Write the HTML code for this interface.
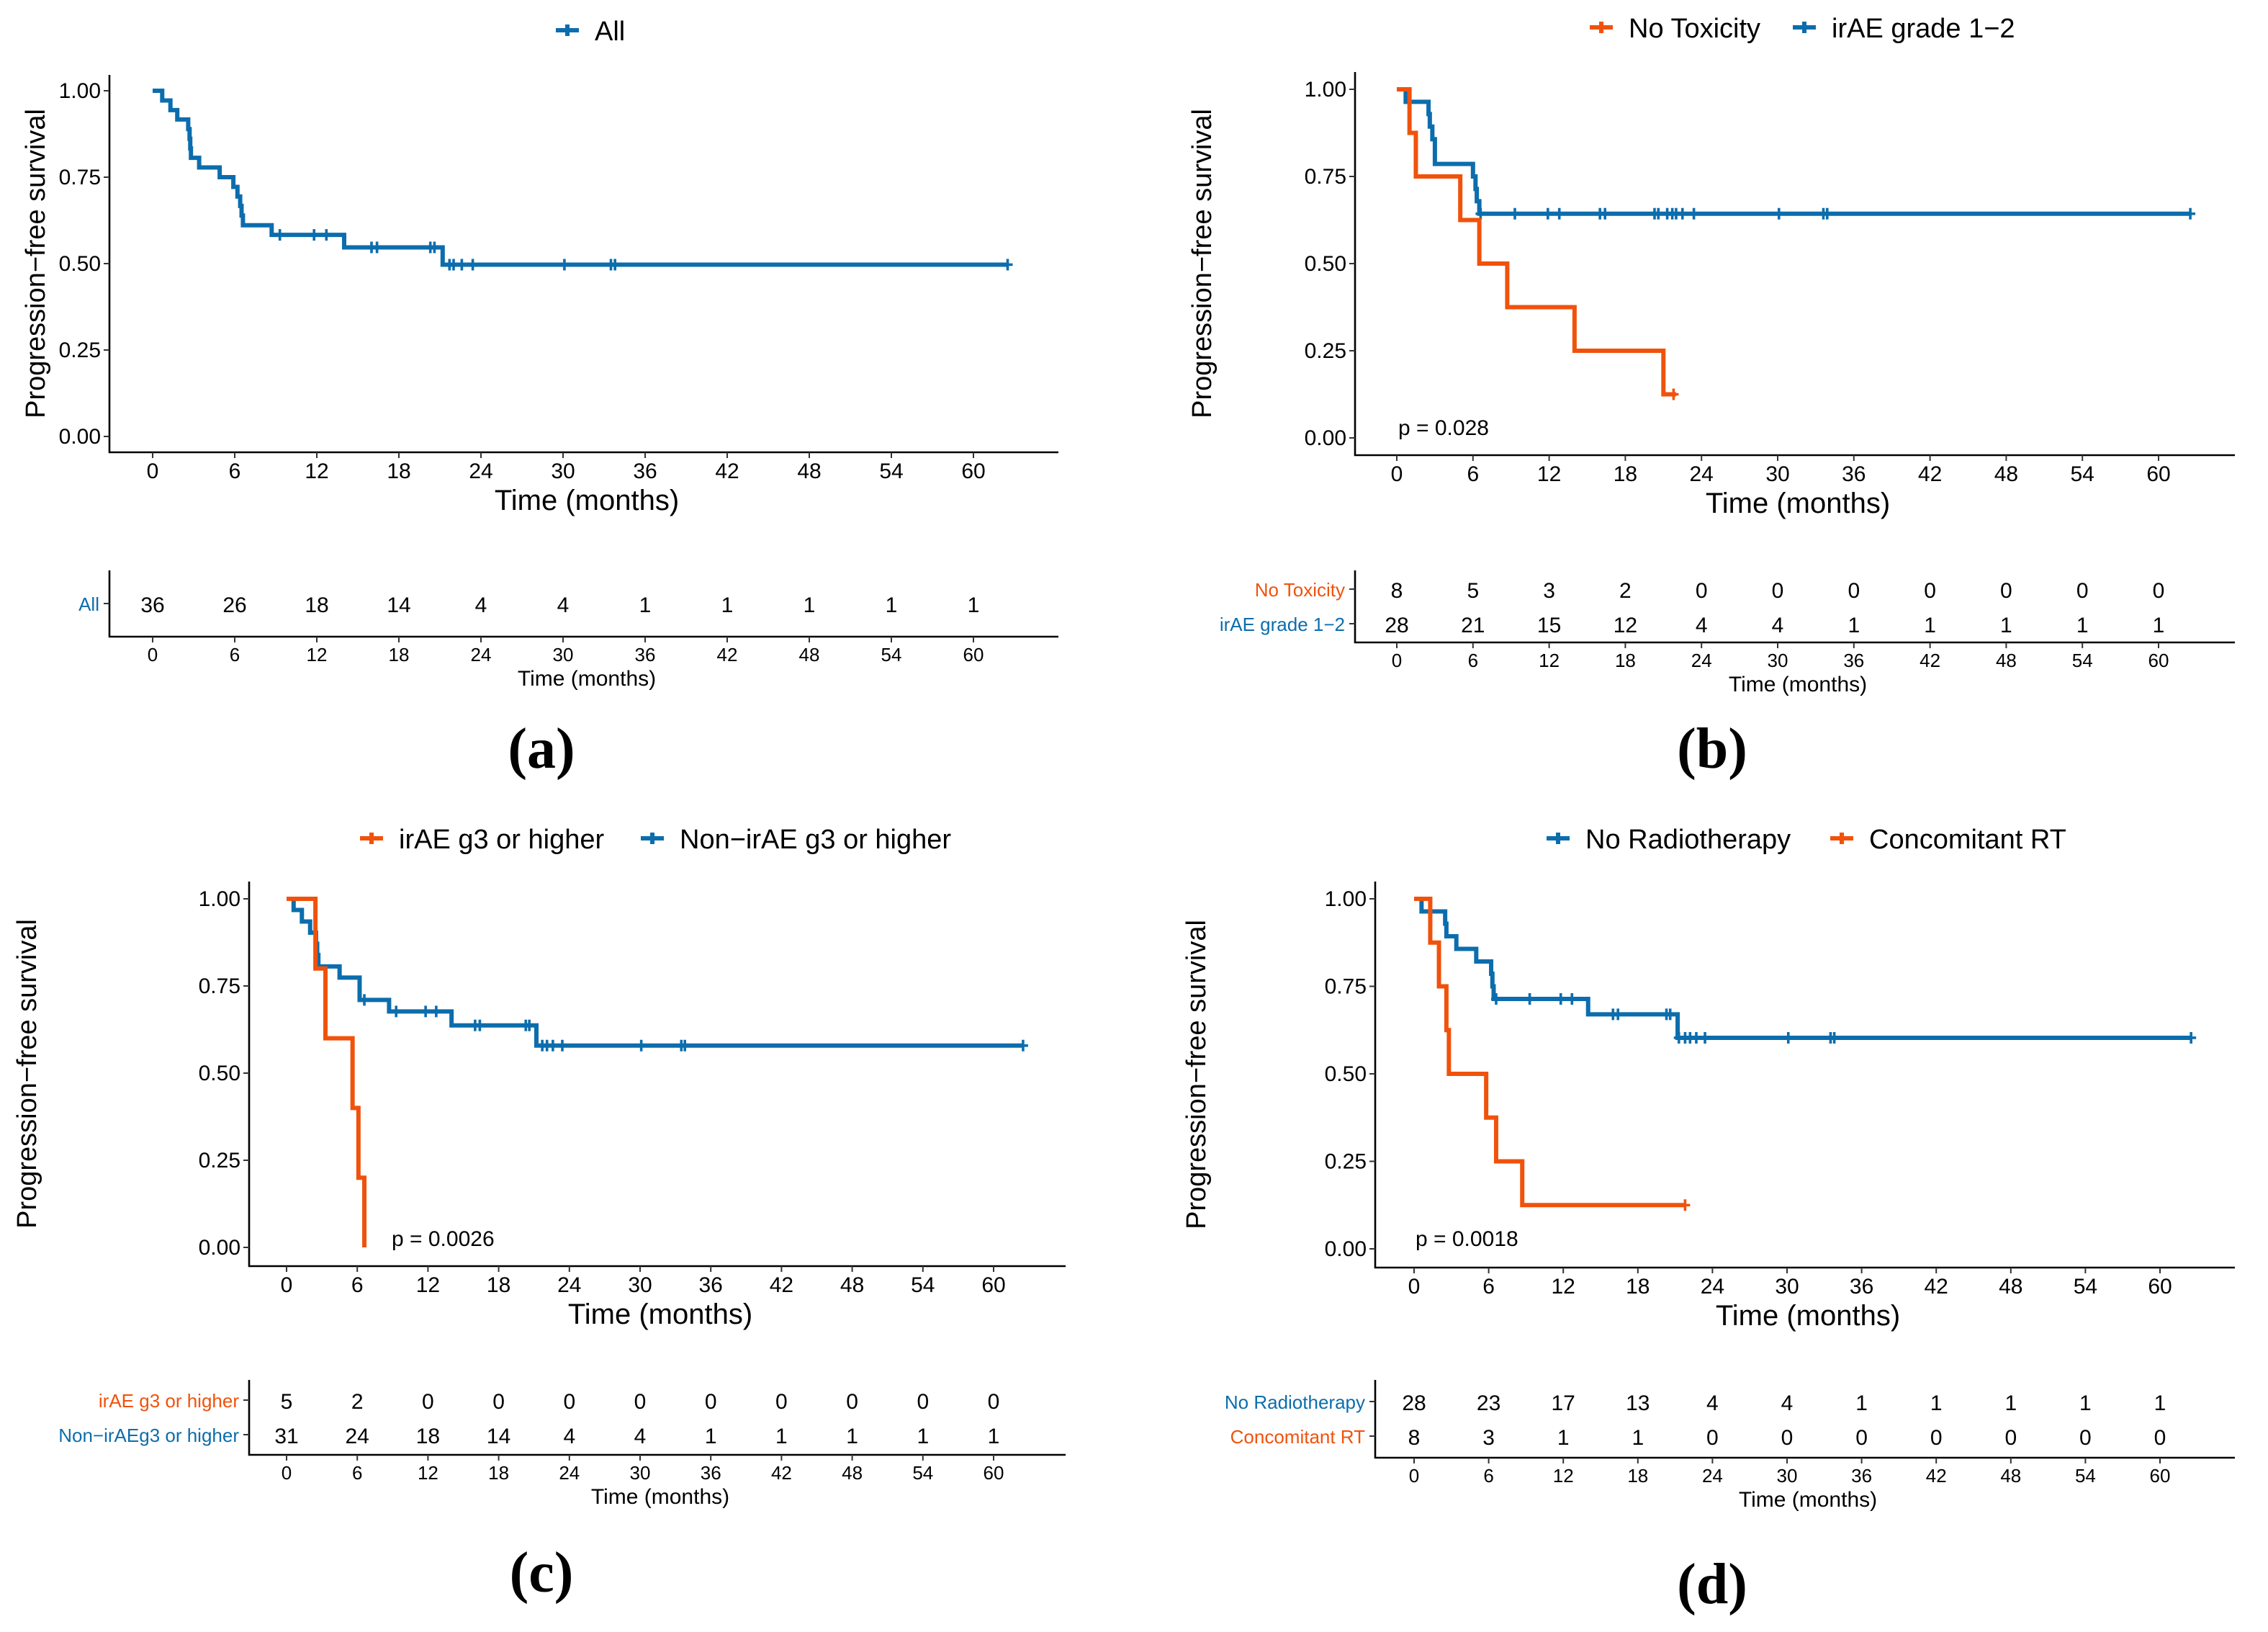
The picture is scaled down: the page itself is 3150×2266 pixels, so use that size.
<!DOCTYPE html>
<html><head><meta charset="utf-8"><style>
html,body{margin:0;padding:0;background:#fff}
svg{display:block}
.tk{font-family:"Liberation Sans Narrow","Liberation Sans",sans-serif;font-size:15px;fill:#000}
.ttl{font-family:"Liberation Sans Narrow","Liberation Sans",sans-serif;font-size:20px;fill:#000}
.yt{font-family:"Liberation Sans",sans-serif;font-size:19px;fill:#000}
.lg{font-family:"Liberation Sans",sans-serif;font-size:19px;fill:#000}
.rn{font-family:"Liberation Sans Narrow","Liberation Sans",sans-serif;font-size:15px;fill:#000}
.rl{font-family:"Liberation Sans Narrow","Liberation Sans",sans-serif;font-size:13px}
.rt{font-family:"Liberation Sans Narrow","Liberation Sans",sans-serif;font-size:13px;fill:#000}
.pl{font-family:"Liberation Serif",serif;font-size:40px;font-weight:bold;fill:#000}
</style></head><body>
<svg id="root" width="3150" height="2266" viewBox="0 0 1575 1133" xmlns="http://www.w3.org/2000/svg"></svg>
<script>
// ---- data ----
const xTicks = [0,6,12,18,24,30,36,42,48,54,60];
const yTicks = [0,0.25,0.5,0.75,1.0];
const yTickLabels = ["0.00","0.25","0.50","0.75","1.00"];

// Panel a
const aAllTimes = [0,0.7,1.3,1.8,2.6,2.7,2.75,2.8,3.4,4.9,5.9,6.2,6.4,6.5,6.6,8.7,14.0,21.2];
const aAllSurv  = [1,0.972,0.944,0.917,0.889,0.861,0.833,0.806,0.778,0.75,0.722,0.694,0.667,0.639,0.611,0.583,0.547,0.497];
const aAllEnd = 62.5;
const aAllCensor = [9.3,11.8,12.7,16,16.4,20.3,20.6,21.7,22,22.6,23.4,30.1,33.5,33.8,62.5];
const aRiskAll = [36,26,18,14,4,4,1,1,1,1,1];

// Panel b
const bNoTox_T = [0,1.0,1.5,5.0,6.5,8.7,14.0,21.0];
const bNoTox_S = [1,0.875,0.75,0.625,0.5,0.375,0.25,0.125];
const bNoTox_End = 22;
const bNoTox_C = [21.8];
const bIrae_T = [0,0.7,2.5,2.6,2.8,3.0,6.0,6.2,6.3,6.5];
const bIrae_S = [1,0.964,0.929,0.893,0.857,0.786,0.75,0.714,0.679,0.643];
const bIrae_End = 62.5;
const bIrae_C = [6.6,9.3,11.9,12.8,16,16.4,20.3,20.6,21.3,21.7,22,22.5,23.4,30.1,33.6,33.9,62.5];
const bRiskNoTox = [8,5,3,2,0,0,0,0,0,0,0];
const bRiskIrae = [28,21,15,12,4,4,1,1,1,1,1];

// Panel c
const cG3_T = [0,2.45,3.3,5.6,6.1,6.6];
const cG3_S = [1,0.8,0.6,0.4,0.2,0.0];
const cG3_End = 6.6;
const cG3_C = [];
const cNon_T = [0,0.6,1.3,2.0,2.5,2.6,2.7,4.5,6.2,8.7,14.0,21.2];
const cNon_S = [1,0.968,0.935,0.903,0.871,0.839,0.806,0.774,0.71,0.677,0.637,0.579];
const cNon_End = 62.5;
const cNon_C = [6.6,9.3,11.8,12.7,16,16.4,20.3,20.6,21.7,22.1,22.6,23.4,30.1,33.5,33.8,62.5];
const cRiskG3 = [5,2,0,0,0,0,0,0,0,0,0];
const cRiskNon = [31,24,18,14,4,4,1,1,1,1,1];

// Panel d
const dNoRT_T = [0,0.6,2.5,2.6,3.4,5.0,6.2,6.3,6.4,14.0,21.2];
const dNoRT_S = [1,0.964,0.929,0.893,0.857,0.821,0.786,0.75,0.714,0.670,0.603];
const dNoRT_End = 62.5;
const dNoRT_C = [6.6,9.3,11.8,12.7,16,16.4,20.3,20.6,21.3,21.8,22.2,22.7,23.4,30.1,33.5,33.8,62.5];
const dRT_T = [0,1.3,2.0,2.6,2.8,5.8,6.6,8.7];
const dRT_S = [1,0.875,0.75,0.625,0.5,0.375,0.25,0.125];
const dRT_End = 21.8;
const dRT_C = [21.8];
const dRiskNoRT = [28,23,17,13,4,4,1,1,1,1,1];
const dRiskRT = [8,3,1,1,0,0,0,0,0,0,0];

const BLUE = "#0C6DAD", ORANGE = "#F0520C";
const NS = "http://www.w3.org/2000/svg";
const root = document.getElementById('root');

function mk(tag, attrs, parent, text){
  const e = document.createElementNS(NS, tag);
  for (const k in attrs) e.setAttribute(k, attrs[k]);
  if (text !== undefined) e.textContent = text;
  (parent||root).appendChild(e);
  return e;
}

function panel(P){
  const g = mk('g', {});
  
  
  const sx = t => P.x0 + (P.x60 - P.x0) * t / 60;
  const sy = s => P.y0 + (P.y1 - P.y0) * s;
  const ax = mk('path', {d:`M${P.ax},${P.top} V${P.axY} H${P.right}`, fill:'none', stroke:'#000', 'stroke-width':1.3}, g);
  
  
  yTicks.forEach((v,i)=>{
    mk('line',{x1:P.ax-4,x2:P.ax,y1:sy(v),y2:sy(v),stroke:'#333','stroke-width':1},g);
    const t = mk('text',{x:P.ax-6,y:sy(v)+5,'text-anchor':'end',class:'tk'},g,yTickLabels[i]);
    
    
  });
  xTicks.forEach(v=>{
    mk('line',{x1:sx(v),x2:sx(v),y1:P.axY,y2:P.axY+4,stroke:'#333','stroke-width':1},g);
    const t = mk('text',{x:sx(v),y:P.axY+18,'text-anchor':'middle',class:'tk'},g,String(v));
    
    
  });
  const xt = mk('text',{x:(P.ax+P.right)/2+2,y:P.axY+40,'text-anchor':'middle',class:'ttl'},g,'Time (months)');
  
  
  const ytx = P.ytx, yty = (P.top+P.axY)/2;
  const yt = mk('text',{x:ytx,y:yty,'text-anchor':'middle',class:'yt',transform:`rotate(-90 ${ytx} ${yty})`},g,'Progression\u2212free survival');
  
  
  P.series.forEach(S=>{
    let d = `M${sx(S.T[0])},${sy(S.S[0])}`;
    for (let i=1;i<S.T.length;i++){
      d += ` H${sx(S.T[i])} V${sy(S.S[i])}`;
    }
    d += ` H${sx(S.end)}`;
    const p = mk('path',{d, fill:'none', stroke:S.color, 'stroke-width':3}, g);
    
    
    S.C.forEach(c=>{
      let s = S.S[0];
      for (let i=0;i<S.T.length;i++) if (S.T[i] <= c) s = S.S[i];
      const m = mk('path',{d:`M${sx(c)},${sy(s)-4} v8 M${sx(c)-3.5},${sy(s)} h7`, stroke:S.color,'stroke-width':1.8}, g);
      
      
    });
  });
  P.legend.forEach(L=>{
    const lm = mk('path',{d:`M${L.x-8},${P.legY} h16 M${L.x},${P.legY-4} v8`, stroke:L.color,'stroke-width':3}, g);
    
    
    const lt = mk('text',{x:L.x+19,y:P.legY+7,class:'lg'},g,L.label);
    
    
  });
  if (P.pval){
    const pt = mk('text',{x:P.pval.x,y:P.pval.y,class:'tk'},g,P.pval.t);
    
    
  }
  const R = P.risk;
  mk('path',{d:`M${P.ax},${R.top} V${R.axY} H${P.right}`, fill:'none', stroke:'#000','stroke-width':1.3}, g);
  R.rows.forEach(row=>{
    const lb = mk('text',{x:P.ax-7,y:row.y+5,'text-anchor':'end',class:'rl',fill:row.color},g,row.label);
    
    
    mk('line',{x1:P.ax-4,x2:P.ax,y1:row.y,y2:row.y,stroke:'#333','stroke-width':1},g);
    row.vals.forEach((v,i)=>{
      const t = mk('text',{x:sx(xTicks[i]),y:row.y+6,'text-anchor':'middle',class:'rn'},g,String(v));
      
      
    });
  });
  xTicks.forEach(v=>{
    mk('line',{x1:sx(v),x2:sx(v),y1:R.axY,y2:R.axY+4,stroke:'#333','stroke-width':1},g);
    mk('text',{x:sx(v),y:R.axY+17,'text-anchor':'middle',class:'rt'},g,String(v));
  });
  const rt = mk('text',{x:(P.ax+P.right)/2+2,y:R.axY+34,'text-anchor':'middle',class:'rt',style:'font-size:15px'},g,'Time (months)');
  
  
  const lab = mk('text',{x:P.labX,y:P.labY,'text-anchor':'middle',class:'pl'},g,`(${P.id})`);
  
  
}

panel({id:'a', ax:76, top:52, axY:314, right:735, x0:106, x60:676, y0:303, y1:63, ytx:31,
  legY:21, legend:[{x:394,color:BLUE,label:'All'}],
  series:[{key:'all',T:aAllTimes,S:aAllSurv,end:aAllEnd,C:aAllCensor,color:BLUE}],
  risk:{top:396, axY:442, rows:[{y:419,label:'All',color:BLUE,vals:aRiskAll}]},
  labX:376, labY:533});

panel({id:'b', ax:941, top:50, axY:316, right:1552, x0:970, x60:1499, y0:304, y1:62, ytx:841,
  legY:19, legend:[{x:1112,color:ORANGE,label:'No Toxicity'},{x:1253,color:BLUE,label:'irAE grade 1\u22122'}],
  pval:{x:971,y:302,t:'p = 0.028'},
  series:[{key:'irae-1-2',T:bIrae_T,S:bIrae_S,end:bIrae_End,C:bIrae_C,color:BLUE},
          {key:'no-toxicity',T:bNoTox_T,S:bNoTox_S,end:bNoTox_End,C:bNoTox_C,color:ORANGE}],
  risk:{top:396, axY:446, rows:[{y:409,label:'No Toxicity',color:ORANGE,vals:bRiskNoTox},{y:433,label:'irAE grade 1\u22122',color:BLUE,vals:bRiskIrae}]},
  labX:1189, labY:533});

panel({id:'c', ax:173, top:612, axY:879, right:740, x0:199, x60:690, y0:866, y1:624, ytx:25,
  legY:582, legend:[{x:258,color:ORANGE,label:'irAE g3 or higher'},{x:453,color:BLUE,label:'Non\u2212irAE g3 or higher'}],
  pval:{x:272,y:865,t:'p = 0.0026'},
  series:[{key:'non-irae-g3',T:cNon_T,S:cNon_S,end:cNon_End,C:cNon_C,color:BLUE},
          {key:'irae-g3',T:cG3_T,S:cG3_S,end:cG3_End,C:cG3_C,color:ORANGE}],
  risk:{top:958, axY:1010, rows:[{y:972,label:'irAE g3 or higher',color:ORANGE,vals:cRiskG3},{y:996,label:'Non\u2212irAEg3 or higher',color:BLUE,vals:cRiskNon}]},
  labX:376, labY:1105});

panel({id:'d', ax:955, top:612, axY:880, right:1552, x0:982, x60:1500, y0:867, y1:624, ytx:837,
  legY:582, legend:[{x:1082,color:BLUE,label:'No Radiotherapy'},{x:1279,color:ORANGE,label:'Concomitant RT'}],
  pval:{x:983,y:865,t:'p = 0.0018'},
  series:[{key:'no-radiotherapy',T:dNoRT_T,S:dNoRT_S,end:dNoRT_End,C:dNoRT_C,color:BLUE},
          {key:'concomitant-rt',T:dRT_T,S:dRT_S,end:dRT_End,C:dRT_C,color:ORANGE}],
  risk:{top:958, axY:1012, rows:[{y:973,label:'No Radiotherapy',color:BLUE,vals:dRiskNoRT},{y:997,label:'Concomitant RT',color:ORANGE,vals:dRiskRT}]},
  labX:1189, labY:1113});
</script>
</body></html>
